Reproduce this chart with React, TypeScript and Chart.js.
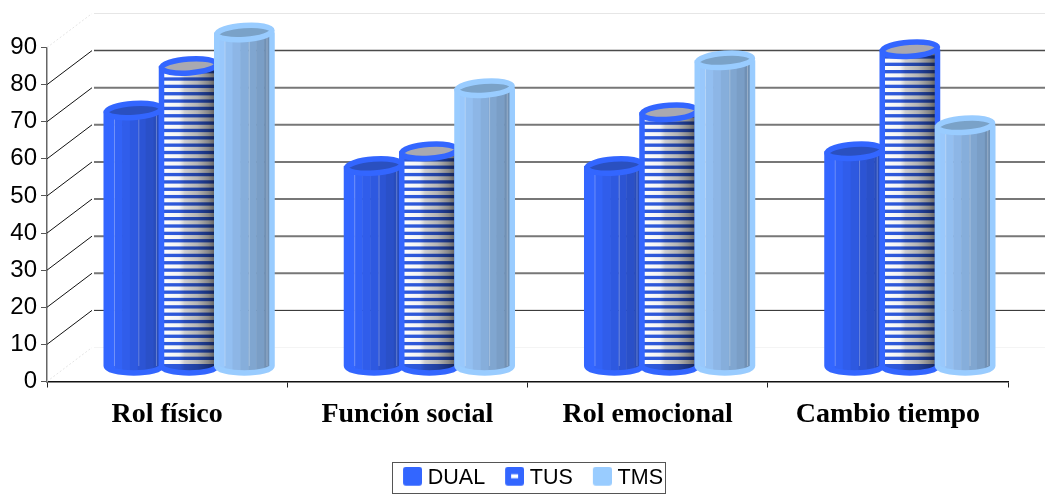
import React, { useEffect, useRef } from "react";
import { Chart, registerables } from "chart.js";

Chart.register(...registerables);

const categories = ["Rol físico", "Función social", "Rol emocional", "Cambio tiempo"];
const dualValues = [69, 54, 54, 58];
const tusValues = [81, 58, 68.5, 85.5];
const tmsValues = [90, 75, 82.5, 65];
const yTicksMax = 90;

const DUAL_BLUE = "#3366ff";
const TMS_BLUE = "#99ccff";

// Horizontal shading across each cylinder, left to right, and the colour of its cap.
const bodyBands: Record<string, string[]> = {
  DUAL: ["#3366ff", "#3262f6", "#305deb", "#2e59e0", "#2c54d4", "#2a50c8", "#284cbc"],
  TMS: ["#99c8fc", "#93bff1", "#8db6e6", "#86aedb", "#80a6d0", "#7a9ec6", "#7090b4"],
};
const capFill: Record<string, string> = { DUAL: "#2a50c0", TUS: "#a9a9b0", TMS: "#7aa2c8" };
const highlightStops = [0.14, 0.58, 0.9];

// Depth of the 3D box, and how far the cylinders sit inside it.
const WALL_DX = 45;
const WALL_DY = -34;
const BAR_DX = 22;
const BAR_DY = -15;
const CAP_RY = 7;
const STROKE = 5.5;

function outlinePath(ctx: CanvasRenderingContext2D, cx: number, top: number, base: number, rx: number) {
  ctx.beginPath();
  ctx.moveTo(cx - rx, top);
  ctx.lineTo(cx - rx, base);
  ctx.ellipse(cx, base, rx, CAP_RY, 0, Math.PI, 0, true);
  ctx.lineTo(cx + rx, top);
}

function drawCylinder(
  ctx: CanvasRenderingContext2D,
  name: string,
  color: string,
  el: { x: number; y: number; base: number; width: number }
) {
  const cx = el.x + BAR_DX;
  const top = el.y + BAR_DY;
  const base = el.base + BAR_DY;
  const rx = el.width / 2;
  const left = cx - rx;

  ctx.save();
  outlinePath(ctx, cx, top, base, rx);
  ctx.closePath();
  ctx.clip();

  if (name === "TUS") {
    ctx.fillStyle = "#2f5be0";
    ctx.fillRect(left, top - CAP_RY, el.width, base - top + CAP_RY * 3);
    ctx.fillStyle = "#ffffff";
    const period = 7.35;
    for (let y = base - 2; y > top - period; y -= period) {
      ctx.fillRect(left, y - 4, el.width, 4);
    }
    const shade = ctx.createLinearGradient(left, 0, left + el.width, 0);
    shade.addColorStop(0, "#ffffff");
    shade.addColorStop(0.32, "#f4f4f4");
    shade.addColorStop(0.42, "#cfcfcf");
    shade.addColorStop(0.65, "#b4b4b4");
    shade.addColorStop(0.85, "#888888");
    shade.addColorStop(1, "#555555");
    ctx.globalCompositeOperation = "multiply";
    ctx.fillStyle = shade;
    ctx.fillRect(left, top - CAP_RY, el.width, base - top + CAP_RY * 3);
    ctx.globalCompositeOperation = "source-over";
  } else {
    const bands = bodyBands[name];
    const step = el.width / bands.length;
    bands.forEach((band, i) => {
      ctx.fillStyle = band;
      ctx.fillRect(left + i * step, top - CAP_RY, step + 0.5, base - top + CAP_RY * 3);
    });
    ctx.fillStyle = "rgba(255,255,255,0.28)";
    highlightStops.forEach((s) => {
      ctx.fillRect(left + s * el.width, top, 1, base - top);
    });
  }
  ctx.restore();

  ctx.strokeStyle = color;
  ctx.lineWidth = STROKE;
  ctx.lineJoin = "round";
  outlinePath(ctx, cx, top, base, rx);
  ctx.stroke();

  // The cap tilts a little, following the chart's perspective.
  ctx.beginPath();
  ctx.ellipse(cx, top, rx, CAP_RY, -0.07, 0, Math.PI * 2);
  ctx.fillStyle = capFill[name];
  ctx.fill();
  ctx.stroke();
}

const box3dPlugin = {
  id: "box3d",
  afterLayout(chart: any) {
    // The legend is centred under the plot's depth-shifted footprint.
    const legend = chart.legend;
    const h = legend.bottom - legend.top;
    legend.left = 374;
    legend.right = 692;
    legend.top = 495 - h + 4;
    legend.bottom = 495 + 4;
  },
  beforeDatasetsDraw(chart: any) {
    const ctx: CanvasRenderingContext2D = chart.ctx;
    const { left, right } = chart.chartArea;
    const y = chart.scales.y;
    ctx.save();

    y.ticks.forEach((tick: any) => {
      const v = tick.value;
      const py = y.getPixelForValue(v);
      const isEdge = v === 0 || v === yTicksMax;
      ctx.beginPath();
      ctx.moveTo(left, py);
      ctx.lineTo(left + WALL_DX, py + WALL_DY);
      if (isEdge) {
        ctx.strokeStyle = "#e4e4e4";
        ctx.setLineDash([2, 2]);
      } else {
        ctx.strokeStyle = "#111111";
        ctx.setLineDash([]);
      }
      ctx.lineWidth = 1;
      ctx.stroke();
      ctx.setLineDash([]);

      ctx.beginPath();
      ctx.moveTo(left + WALL_DX + 2, py + WALL_DY);
      ctx.lineTo(right + WALL_DX, py + WALL_DY);
      if (isEdge) {
        ctx.strokeStyle = v === 0 ? "#f4f4f4" : "#e6e6e6";
        ctx.lineWidth = 1;
      } else if (v === 10) {
        ctx.strokeStyle = "#222222";
        ctx.lineWidth = 1;
      } else if (v === 80) {
        ctx.strokeStyle = "#4a4a4a";
        ctx.lineWidth = 1.5;
      } else {
        ctx.strokeStyle = "#777777";
        ctx.lineWidth = 2;
      }
      ctx.stroke();
    });

    chart.data.datasets.forEach((ds: any, i: number) => {
      chart.getDatasetMeta(i).data.forEach((bar: any) => {
        const el = bar.getProps(["x", "y", "base", "width"], true);
        drawCylinder(ctx, ds.label, ds.backgroundColor, el);
      });
    });
    ctx.restore();
    // Cylinders are painted here, later series over earlier ones.
    return false;
  },
  afterDraw(chart: any) {
    const ctx: CanvasRenderingContext2D = chart.ctx;
    ctx.save();
    ctx.strokeStyle = "#555555";
    ctx.lineWidth = 1;
    ctx.strokeRect(392.5, 462.5, 273, 31);
    ctx.restore();
  },
};

function legendMarker(color: string, dash: boolean) {
  // The transparent margins offset the swatch within the legend's box slot.
  const c = document.createElement("canvas");
  c.width = 24;
  c.height = 23;
  const g = c.getContext("2d")!;
  g.fillStyle = color;
  g.beginPath();
  g.roundRect(5, 0, 19, 19, 3);
  g.fill();
  if (dash) {
    g.fillStyle = "#ffffff";
    g.fillRect(11, 7.5, 7, 4);
  }
  return c;
}

export default function App() {
  const ref = useRef<HTMLCanvasElement>(null);

  useEffect(() => {
    const chart = new Chart(ref.current!, {
      type: "bar",
      plugins: [box3dPlugin],
      data: {
        labels: categories,
        datasets: [
          { label: "DUAL", data: dualValues, backgroundColor: DUAL_BLUE },
          { label: "TUS", data: tusValues, backgroundColor: DUAL_BLUE },
          { label: "TMS", data: tmsValues, backgroundColor: TMS_BLUE },
        ],
      },
      options: {
        responsive: false,
        animation: false,
        datasets: { bar: { categoryPercentage: 0.69, barPercentage: 1 } },
        layout: { padding: { top: 47.5, right: 37, left: 0, bottom: 0 } },
        plugins: {
          title: { display: false },
          tooltip: { enabled: false },
          legend: {
            position: "bottom",
            labels: {
              usePointStyle: true,
              boxWidth: 14,
              padding: 20,
              color: "#000000",
              font: { family: "'Liberation Sans'", size: 21.5 },
              generateLabels: () => [
                { text: "DUAL", pointStyle: legendMarker(DUAL_BLUE, false), lineWidth: 0, datasetIndex: 0 },
                { text: "TUS", pointStyle: legendMarker(DUAL_BLUE, true), lineWidth: 0, datasetIndex: 1 },
                { text: "TMS", pointStyle: legendMarker(TMS_BLUE, false), lineWidth: 0, datasetIndex: 2 },
              ],
            },
          },
        },
        scales: {
          x: {
            grid: { display: true, drawOnChartArea: false, tickLength: 6, color: "#222222" },
            border: { color: "#111111", width: 1.5 },
            ticks: {
              padding: 10,
              color: "#000000",
              maxRotation: 0,
              autoSkip: false,
              font: { family: "'Liberation Serif'", size: 28, weight: "bold" },
            },
            afterFit: (s: any) => {
              s.height = 115 - 53;
            },
          },
          y: {
            min: 0,
            max: yTicksMax,
            ticks: {
              stepSize: 10,
              padding: 4,
              color: "#000000",
              font: { family: "'Liberation Sans'", size: 24 },
            },
            grid: { display: true, drawOnChartArea: false, tickLength: 6, color: "#555555" },
            border: { color: "#666666", width: 1.5 },
            afterFit: (s: any) => {
              s.width = 47;
            },
          },
        },
      },
    } as any);
    return () => chart.destroy();
  }, []);

  return (
    <div style={{ position: "fixed", left: 0, top: 0, width: 1045, height: 495, background: "#ffffff" }}>
      <canvas ref={ref} width={1045} height={495} style={{ display: "block" }} />
    </div>
  );
}
